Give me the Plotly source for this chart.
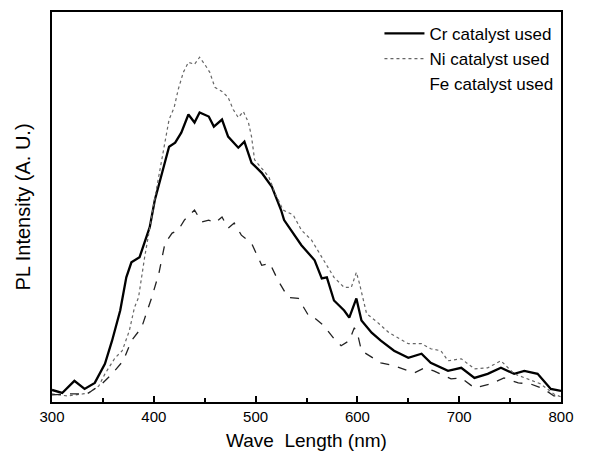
import plotly.graph_objects as go

# PL spectra (arbitrary units)
cr_wl = [300, 310, 322, 332, 342, 352, 359, 367, 373, 378, 386, 391, 396, 401, 408,
         415, 421, 427, 434, 440, 445, 454, 459, 467, 473, 483, 489, 496, 506, 516,
         525, 528, 545, 558, 565, 570, 577, 587, 592, 599, 604, 614, 623, 633, 636,
         650, 663, 672, 689, 702, 715, 728, 741, 754, 764, 777, 790, 800]
cr_pl = [12, 9, 21, 13, 19, 38, 61, 91, 124, 139, 144, 158, 174, 201, 228,
         254, 258, 268, 286, 278, 288, 284, 274, 281, 264, 253, 259, 238, 228, 214,
         191, 181, 156, 141, 123, 124, 101, 91, 84, 103, 81, 69, 61, 53, 51,
         44, 48, 39, 31, 34, 24, 28, 34, 28, 31, 28, 13, 11]

ni_wl = [300, 315, 330, 336, 346, 352, 362, 369, 376, 381, 385, 391, 403, 410, 415,
         420, 424, 429, 434, 440, 445, 450, 455, 460, 467, 473, 478, 483, 488, 493,
         496, 499, 506, 513, 519, 527, 537, 545, 555, 565, 571, 577, 587, 594, 599,
         602, 609, 620, 631, 641, 650, 663, 672, 682, 689, 702, 715, 728, 741, 754,
         768, 780, 793, 800]
ni_pl = [8, 6, 8, 9, 16, 28, 44, 51, 71, 94, 104, 144, 214, 251, 281,
         293, 311, 328, 338, 336, 343, 336, 328, 313, 309, 303, 291, 283, 289, 278,
         264, 241, 233, 224, 208, 191, 186, 171, 161, 144, 134, 124, 114, 114, 129,
         118, 88, 79, 69, 63, 58, 58, 53, 51, 41, 43, 33, 34, 41, 28,
         23, 18, 8, 5]

fe_wl = [300, 315, 329, 336, 349, 359, 370, 378, 388, 398, 405, 411, 418, 424, 430,
         440, 447, 454, 460, 467, 473, 479, 486, 496, 506, 514, 522, 532, 542, 552,
         555, 567, 577, 584, 592, 597, 601, 604, 623, 636, 650, 656, 666, 675, 692,
         702, 715, 731, 744, 758, 770, 783, 793, 800]
fe_pl = [7, 8, 8, 9, 18, 28, 41, 61, 74, 104, 128, 158, 168, 171, 181,
         191, 179, 181, 178, 184, 173, 178, 166, 158, 136, 138, 121, 104, 103, 86,
         86, 76, 63, 56, 61, 74, 64, 51, 39, 36, 31, 29, 34, 31, 23,
         24, 14, 18, 24, 19, 18, 13, 6, 6]

fig = go.Figure()
fig.add_trace(go.Scatter(x=cr_wl, y=cr_pl, mode='lines', name='Cr catalyst used',
                         line=dict(color='black', width=2.3)))
fig.add_trace(go.Scatter(x=ni_wl, y=ni_pl, mode='lines', name='Ni catalyst used',
                         line=dict(color='#666666', width=1.2, dash='dot')))
fig.add_trace(go.Scatter(x=fe_wl, y=fe_pl, mode='lines', name='Fe catalyst used',
                         showlegend=False,
                         line=dict(color='#222222', width=1.3, dash='dash')))
# in the original legend the Fe entry has no visible line sample
fig.add_trace(go.Scatter(x=[None], y=[None], mode='lines', name='Fe catalyst used',
                         line=dict(color='rgba(0,0,0,0)', width=1)))

font = 'Liberation Sans, Arial, sans-serif'
fig.update_layout(
    width=609, height=468,
    margin=dict(l=44, r=56, t=4, b=74),
    paper_bgcolor='white', plot_bgcolor='white',
    font=dict(family=font, color='black', size=15),
    showlegend=True,
    legend=dict(x=0.995, y=0.99, xanchor='right', yanchor='top',
                bgcolor='rgba(0,0,0,0)', font=dict(size=17), tracegroupgap=0,
                itemwidth=40),
    xaxis=dict(range=[300, 800], tickvals=[300, 400, 500, 600, 700, 800],
               ticks='inside', ticklen=6, tickwidth=1.5, tickcolor='black',
               minor=dict(dtick=50, ticks='inside', ticklen=4, tickcolor='black'),
               showline=True, linecolor='black', linewidth=1.5, mirror=True,
               showgrid=False, zeroline=False, tickfont=dict(size=15),
               automargin=False,
               title=dict(text='Wave  Length (nm)', font=dict(size=19), standoff=10)),
    yaxis=dict(range=[0, 388], showticklabels=False, ticks='',
               showline=True, linecolor='black', linewidth=1.5, mirror=True,
               showgrid=False, zeroline=False, automargin=False,
               title=dict(text='PL Intensity (A. U.)', font=dict(size=20), standoff=14)),
)

fig.write_html("out.html")
